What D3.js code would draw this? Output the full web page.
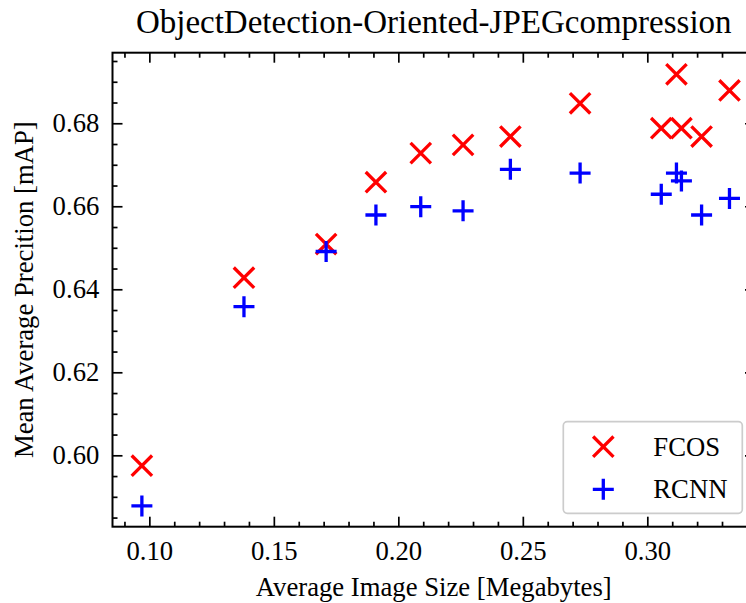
<!DOCTYPE html>
<html>
<head>
<meta charset="utf-8">
<script src="https://cdn.jsdelivr.net/npm/d3@7"></script>
<style>
body { margin: 0; background: #fff; }
text { font-family: "Liberation Serif", "Times New Roman", serif; fill: #000; }
</style>
</head>
<body>
<svg id="svg"></svg>
<script>
var width = 746, height = 603;

// image size in MB (shared by both detectors)
var sizes = [0.097, 0.138, 0.171, 0.191, 0.209, 0.226, 0.245, 0.273, 0.3056, 0.3117, 0.3137, 0.3218, 0.333];
var fcos = [0.5975, 0.6428, 0.6509, 0.6658, 0.6728, 0.6748, 0.6768, 0.6848, 0.6788, 0.6918, 0.6788, 0.6768, 0.6879];
var rcnn = [0.5878, 0.6358, 0.6491, 0.6579, 0.6599, 0.6589, 0.6689, 0.6680, 0.6629, 0.6680, 0.6661, 0.6579, 0.6619];
var xMajor = [0.10, 0.15, 0.20, 0.25, 0.30];
var yMajor = [0.60, 0.62, 0.64, 0.66, 0.68];
var seriesNames = ["FCOS", "RCNN"];

var pLeft = 112.5, pRight = 755, pTop = 52.7, pBottom = 526.7;

var svg = d3.select("#svg")
	.attr("width", width)
	.attr("height", height);

var x = d3.scaleLinear()
	.domain([0.0852, 0.34325])
	.range([pLeft, pRight]);
var y = d3.scaleLinear()
	.domain([0.5828, 0.6970])
	.range([pBottom, pTop]);

var xMinor = d3.range(0.09, 0.345, 0.01).filter(function(v) { return xMajor.every(function(m) { return Math.abs(m - v) > 1e-6; }); });
var yMinor = d3.range(0.585, 0.697, 0.005).filter(function(v) { return yMajor.every(function(m) { return Math.abs(m - v) > 1e-6; }); });

function styleAxis(g) {
	g.select(".domain").remove();
	g.selectAll("line").attr("stroke", "#000").attr("stroke-width", 1.7);
	g.selectAll("text").style("font-size", "26.7px").attr("fill", "#000");
}

// major + minor ticks, all pointing inward
svg.append("g").attr("transform", "translate(0," + pBottom + ")")
	.call(d3.axisBottom(x).tickValues(xMajor).tickSize(-10).tickSizeOuter(0).tickPadding(14.3).tickFormat(d3.format(".2f")))
	.call(styleAxis);
svg.append("g").attr("transform", "translate(0," + pBottom + ")")
	.call(d3.axisBottom(x).tickValues(xMinor).tickSize(-5).tickSizeOuter(0).tickFormat(""))
	.call(styleAxis);
svg.append("g").attr("transform", "translate(0," + pTop + ")")
	.call(d3.axisTop(x).tickValues(xMajor).tickSize(-10).tickSizeOuter(0).tickFormat(""))
	.call(styleAxis);
svg.append("g").attr("transform", "translate(0," + pTop + ")")
	.call(d3.axisTop(x).tickValues(xMinor).tickSize(-5).tickSizeOuter(0).tickFormat(""))
	.call(styleAxis);
svg.append("g").attr("transform", "translate(" + pLeft + ",0)")
	.call(d3.axisLeft(y).tickValues(yMajor).tickSize(-10).tickSizeOuter(0).tickPadding(13.2).tickFormat(d3.format(".2f")))
	.call(styleAxis);
svg.append("g").attr("transform", "translate(" + pLeft + ",0)")
	.call(d3.axisLeft(y).tickValues(yMinor).tickSize(-5).tickSizeOuter(0).tickFormat(""))
	.call(styleAxis);
svg.append("g").attr("transform", "translate(" + pRight + ",0)")
	.call(d3.axisRight(y).tickValues(yMajor).tickSize(-10).tickSizeOuter(0).tickFormat(""))
	.call(styleAxis);
svg.append("g").attr("transform", "translate(" + pRight + ",0)")
	.call(d3.axisRight(y).tickValues(yMinor).tickSize(-5).tickSizeOuter(0).tickFormat(""))
	.call(styleAxis);

svg.append("rect")
	.attr("x", pLeft).attr("y", pTop)
	.attr("width", pRight - pLeft).attr("height", pBottom - pTop)
	.attr("fill", "none").attr("stroke", "#000").attr("stroke-width", 2);

var crossPath = "M-10.2,-10.2L10.2,10.2M-10.2,10.2L10.2,-10.2";
var plusPath = "M-10.5,0L10.5,0M0,-10.5L0,10.5";

svg.append("g").selectAll("path")
	.data(sizes)
	.enter()
	.append("path")
	.attr("transform", function(d, i) { return "translate(" + x(d) + "," + y(fcos[i]) + ")"; })
	.attr("d", crossPath)
	.attr("stroke", "#ff0000").attr("stroke-width", 3.3).attr("fill", "none");

svg.append("g").selectAll("path")
	.data(sizes)
	.enter()
	.append("path")
	.attr("transform", function(d, i) { return "translate(" + x(d) + "," + y(rcnn[i]) + ")"; })
	.attr("d", plusPath)
	.attr("stroke", "#0000ff").attr("stroke-width", 3.3).attr("fill", "none");

// legend
var legend = svg.append("g");
legend.append("rect")
	.attr("x", 563.3).attr("y", 421.7)
	.attr("width", 179).attr("height", 91.6)
	.attr("rx", 4)
	.attr("fill", "#fff").attr("fill-opacity", 0.8)
	.attr("stroke", "#cccccc").attr("stroke-width", 1.7);
var entries = legend.selectAll("g.entry")
	.data(seriesNames)
	.enter()
	.append("g")
	.attr("class", "entry")
	.attr("transform", function(d, i) { return "translate(603.3," + (446.7 + i * 42.6) + ")"; });
entries.append("path")
	.attr("d", function(d, i) { return i == 0 ? crossPath : plusPath; })
	.attr("stroke", function(d, i) { return i == 0 ? "#ff0000" : "#0000ff"; })
	.attr("stroke-width", 3.3).attr("fill", "none");
entries.append("text")
	.attr("x", 50)
	.attr("dy", "0.34em")
	.style("font-size", "26.7px")
	.text(function(d) { return d; });

svg.append("text")
	.attr("x", (pLeft + pRight) / 2)
	.attr("y", 32.7)
	.style("font-size", "33px")
	.style("text-anchor", "middle")
	.text("ObjectDetection-Oriented-JPEGcompression");
svg.append("text")
	.attr("x", (pLeft + pRight) / 2)
	.attr("y", 596)
	.style("font-size", "26.7px")
	.style("text-anchor", "middle")
	.text("Average Image Size [Megabytes]");
svg.append("text")
	.attr("transform", "translate(33," + ((pTop + pBottom) / 2) + ") rotate(-90)")
	.style("font-size", "26.7px")
	.style("text-anchor", "middle")
	.text("Mean Average Precition [mAP]");
</script>
</body>
</html>
